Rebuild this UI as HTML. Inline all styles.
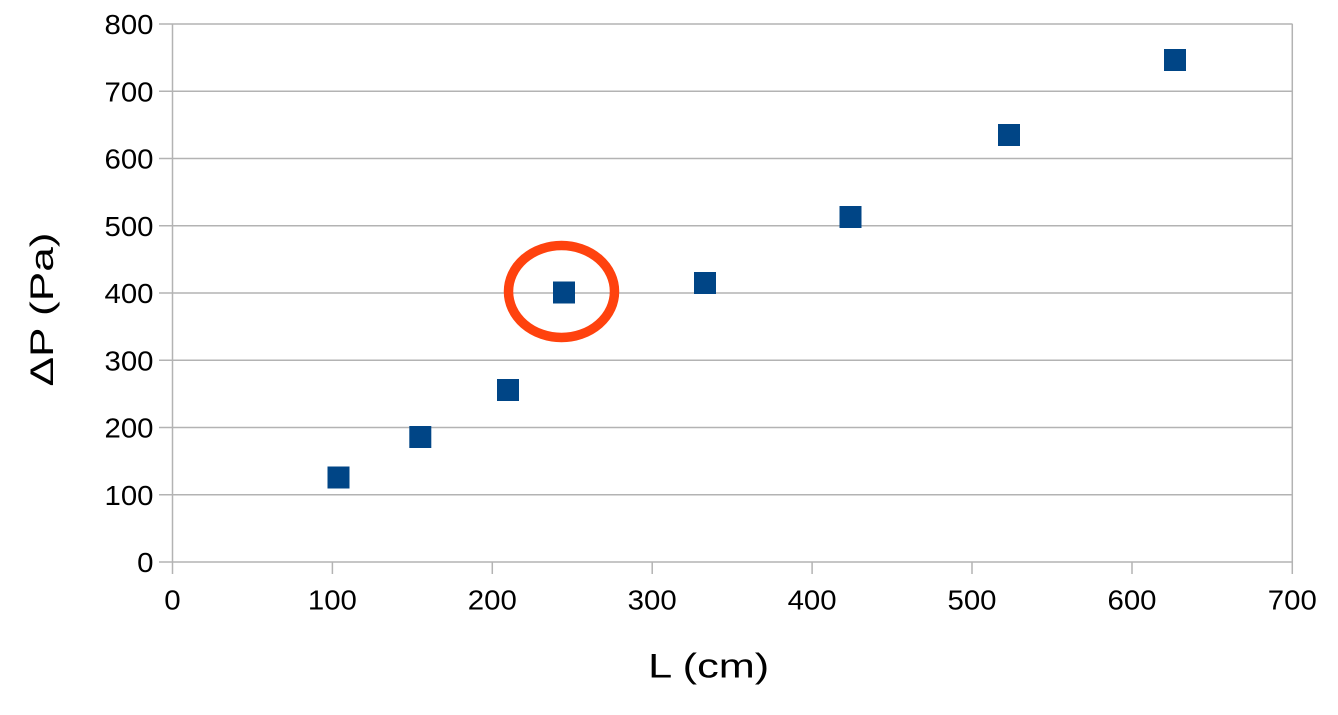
<!DOCTYPE html>
<html>
<head>
<meta charset="utf-8">
<style>
html,body{margin:0;padding:0;background:#fff;}
svg{display:block;}
text{font-family:"Liberation Sans",Arial,sans-serif;fill:#000;}
</style>
</head>
<body>
<svg width="1338" height="715" viewBox="0 0 1338 715" xmlns="http://www.w3.org/2000/svg">
<rect width="1338" height="715" fill="#fff"/>
<g stroke="#b3b3b3" stroke-width="1.5" fill="none">
  <line x1="159" y1="24" x2="1292.5" y2="24"/>
  <line x1="159" y1="91.25" x2="1292.5" y2="91.25"/>
  <line x1="159" y1="158.5" x2="1292.5" y2="158.5"/>
  <line x1="159" y1="225.75" x2="1292.5" y2="225.75"/>
  <line x1="159" y1="293" x2="1292.5" y2="293"/>
  <line x1="159" y1="360.25" x2="1292.5" y2="360.25"/>
  <line x1="159" y1="427.5" x2="1292.5" y2="427.5"/>
  <line x1="159" y1="494.75" x2="1292.5" y2="494.75"/>
  <line x1="159" y1="562" x2="1292.5" y2="562"/>
  <line x1="172.5" y1="24" x2="172.5" y2="574"/>
  <line x1="1292.3" y1="24" x2="1292.3" y2="574"/>
  <line x1="332.4" y1="562" x2="332.4" y2="574"/>
  <line x1="492.3" y1="562" x2="492.3" y2="574"/>
  <line x1="652.2" y1="562" x2="652.2" y2="574"/>
  <line x1="812.1" y1="562" x2="812.1" y2="574"/>
  <line x1="972" y1="562" x2="972" y2="574"/>
  <line x1="1132" y1="562" x2="1132" y2="574"/>
</g>
<g font-size="28" text-anchor="end">
  <text x="153.5" y="34" textLength="49" lengthAdjust="spacingAndGlyphs">800</text>
  <text x="153.5" y="101.25" textLength="49" lengthAdjust="spacingAndGlyphs">700</text>
  <text x="153.5" y="168.5" textLength="49" lengthAdjust="spacingAndGlyphs">600</text>
  <text x="153.5" y="235.75" textLength="49" lengthAdjust="spacingAndGlyphs">500</text>
  <text x="153.5" y="303" textLength="49" lengthAdjust="spacingAndGlyphs">400</text>
  <text x="153.5" y="370.25" textLength="49" lengthAdjust="spacingAndGlyphs">300</text>
  <text x="153.5" y="437.5" textLength="49" lengthAdjust="spacingAndGlyphs">200</text>
  <text x="153.5" y="504.75" textLength="49" lengthAdjust="spacingAndGlyphs">100</text>
  <text x="153.5" y="572" textLength="16.4" lengthAdjust="spacingAndGlyphs">0</text>
</g>
<g font-size="28" text-anchor="middle">
  <text x="172.5" y="609.5" textLength="16.4" lengthAdjust="spacingAndGlyphs">0</text>
  <text x="332.4" y="609.5" textLength="49" lengthAdjust="spacingAndGlyphs">100</text>
  <text x="492.3" y="609.5" textLength="49" lengthAdjust="spacingAndGlyphs">200</text>
  <text x="652.2" y="609.5" textLength="49" lengthAdjust="spacingAndGlyphs">300</text>
  <text x="812.1" y="609.5" textLength="49" lengthAdjust="spacingAndGlyphs">400</text>
  <text x="972" y="609.5" textLength="49" lengthAdjust="spacingAndGlyphs">500</text>
  <text x="1132" y="609.5" textLength="49" lengthAdjust="spacingAndGlyphs">600</text>
  <text x="1292.3" y="609.5" textLength="49" lengthAdjust="spacingAndGlyphs">700</text>
</g>
<text x="708.7" y="677.5" font-size="34" text-anchor="middle" textLength="121" lengthAdjust="spacingAndGlyphs">L (cm)</text>
<text transform="translate(52.8,309.5) rotate(-90)" x="0" y="0" font-size="32" text-anchor="middle" textLength="154" lengthAdjust="spacingAndGlyphs">ΔP (Pa)</text>
<g fill="#004586">
  <rect x="327.5" y="466.5" width="22" height="22"/>
  <rect x="409.3" y="426" width="22" height="22"/>
  <rect x="497" y="379" width="22" height="22"/>
  <rect x="553" y="281.5" width="22" height="22"/>
  <rect x="694" y="272" width="22" height="22"/>
  <rect x="839.5" y="206" width="22" height="22"/>
  <rect x="998" y="124" width="22" height="22"/>
  <rect x="1164" y="49" width="22" height="22"/>
</g>
<ellipse cx="561.5" cy="291.5" rx="53" ry="46" fill="none" stroke="#ff420e" stroke-width="9.5"/>
</svg>
</body>
</html>
